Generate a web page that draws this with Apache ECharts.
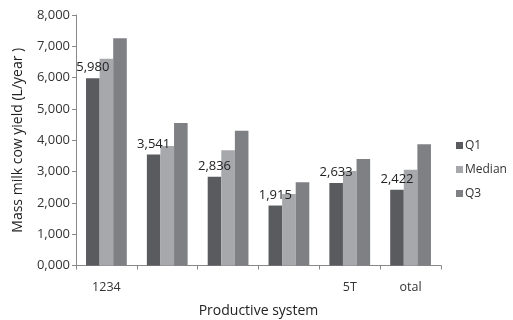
<!DOCTYPE html>
<html>
<head>
<meta charset="utf-8">
<script src="https://cdn.jsdelivr.net/npm/echarts@6/dist/echarts.min.js"></script>
<style>
  html, body { margin: 0; padding: 0; background: #fff; }
  #chart { width: 513px; height: 320px; }
</style>
</head>
<body>
<div id="chart"></div>
<script>
// Productive system categories (axis labels as printed)
const categories = ['1234', '', '', '', '5T', 'otal'];

// Milk yield quartiles per system, L/year
const q1Values = [5980, 3541, 2836, 1915, 2633, 2422];
const medianValues = [6600, 3820, 3680, 2285, 3020, 3060];
const q3Values = [7260, 4550, 4300, 2660, 3400, 3870];

const yTicks = { min: 0, max: 8000, interval: 1000 };

const FONT = 'Open Sans';

// Values are written as thousands with a comma separator: 5980 -> "5,980"
function fmt(v) {
  const whole = Math.floor(v / 1000);
  const rest = String(Math.round(v % 1000)).padStart(3, '0');
  return whole + ',' + rest;
}

const chart = echarts.init(document.getElementById('chart'), null, { renderer: 'canvas' });

chart.setOption({
  animation: false,
  backgroundColor: '#ffffff',
  textStyle: { fontFamily: FONT },
  grid: { left: 76, right: 72, top: 15, bottom: 54.5, containLabel: false, outerBoundsMode: 'none' },
  legend: {
    orient: 'vertical',
    left: 456,
    top: 137,
    padding: 0,
    itemWidth: 7,
    itemHeight: 7,
    itemGap: 7,
    icon: 'rect',
    textStyle: { fontFamily: FONT, fontSize: 12, lineHeight: 17, color: '#333', padding: [0, 0, 0, -3] },
    data: ['Q1', 'Median', 'Q3']
  },
  xAxis: {
    type: 'category',
    data: categories,
    name: 'Productive system',
    nameLocation: 'middle',
    nameGap: 39,
    nameTextStyle: { fontFamily: FONT, fontSize: 14, color: '#222' },
    axisLine: { lineStyle: { color: '#888', width: 1 } },
    axisTick: { show: true, length: 4, lineStyle: { color: '#888' } },
    axisLabel: { fontFamily: FONT, fontSize: 12.5, color: '#333', margin: 15 }
  },
  yAxis: {
    type: 'value',
    min: yTicks.min,
    max: yTicks.max,
    interval: yTicks.interval,
    name: 'Mass milk cow yield (L/year )',
    nameLocation: 'middle',
    nameGap: 51,
    nameTextStyle: { fontFamily: FONT, fontSize: 14, color: '#222' },
    axisLine: { show: true, lineStyle: { color: '#888', width: 1 } },
    axisTick: { show: true, length: 4, lineStyle: { color: '#888' } },
    splitLine: { show: false },
    axisLabel: { fontFamily: FONT, fontSize: 13, color: '#333', margin: 6, formatter: fmt }
  },
  series: [
    {
      name: 'Q1',
      type: 'bar',
      data: q1Values,
      barGap: '0%',
      barCategoryGap: '33%',
      itemStyle: { color: '#5a5b5e' },
      label: {
        show: true,
        position: 'top',
        distance: 4,
        fontFamily: FONT,
        fontSize: 13,
        color: '#222',
        formatter: p => fmt(p.value)
      }
    },
    {
      name: 'Median',
      type: 'bar',
      data: medianValues,
      barGap: '0%',
      barCategoryGap: '33%',
      itemStyle: { color: '#a7a8ab' }
    },
    {
      name: 'Q3',
      type: 'bar',
      data: q3Values,
      barGap: '0%',
      barCategoryGap: '33%',
      itemStyle: { color: '#7f8084' }
    }
  ]
});
</script>
</body>
</html>
